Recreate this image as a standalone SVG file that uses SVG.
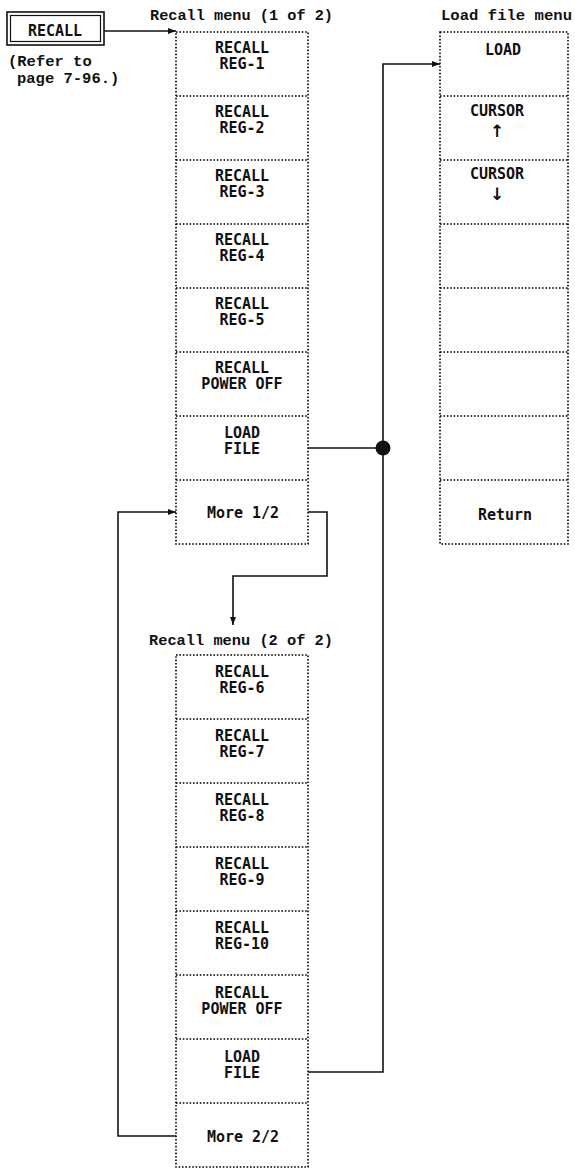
<svg xmlns="http://www.w3.org/2000/svg" width="575" height="1168" viewBox="0 0 575 1168">
<style>
.bg{fill:#fff}
.box{fill:none;stroke:#000;stroke-width:1.6;stroke-dasharray:1.6 1.8}
.ttl{font-family:"Liberation Mono",monospace;font-weight:bold;font-size:15.5px;fill:#111}
.itm{font-family:"DejaVu Sans Mono","Liberation Mono",monospace;font-weight:bold;font-size:15px;fill:#111;text-anchor:middle}
.arr{font-family:"DejaVu Sans",sans-serif;font-weight:bold;font-size:17px;fill:#111;text-anchor:middle}
.con{fill:none;stroke:#111;stroke-width:1.6}
</style>
<defs>
<marker id="ah" markerUnits="userSpaceOnUse" markerWidth="10" markerHeight="8" refX="8" refY="4" orient="auto">
<path d="M0,1 L8,4 L0,7 Z" fill="#111"/>
</marker>
</defs>
<rect class="bg" x="0" y="0" width="575" height="1168"/>

<g id="recall-key">
<rect x="7" y="12" width="97" height="33" fill="none" stroke="#111" stroke-width="1.6"/>
<rect x="10.5" y="15.5" width="90" height="26" fill="none" stroke="#111" stroke-width="1.2"/>
<text class="itm" x="55" y="36" font-size="14">RECALL</text>
<text class="ttl" x="8" y="66" font-size="15">(Refer to</text>
<text class="ttl" x="17" y="83" font-size="15">page 7-96.)</text>
</g>

<g id="menu1">
<text class="ttl" x="150" y="20" textLength="183" lengthAdjust="spacingAndGlyphs">Recall menu (1 of 2)</text>
<rect class="box" x="176" y="32" width="132" height="512"/>
<path class="box" d="M176,96 H308 M176,160 H308 M176,224 H308 M176,288 H308 M176,352 H308 M176,416 H308 M176,480 H308"/>
<g id="m1-reg1"><text class="itm" x="242" y="53">RECALL</text><text class="itm" x="242" y="69">REG-1</text></g>
<g id="m1-reg2"><text class="itm" x="242" y="117">RECALL</text><text class="itm" x="242" y="133">REG-2</text></g>
<g id="m1-reg3"><text class="itm" x="242" y="181">RECALL</text><text class="itm" x="242" y="197">REG-3</text></g>
<g id="m1-reg4"><text class="itm" x="242" y="245">RECALL</text><text class="itm" x="242" y="261">REG-4</text></g>
<g id="m1-reg5"><text class="itm" x="242" y="309">RECALL</text><text class="itm" x="242" y="325">REG-5</text></g>
<g id="m1-poweroff"><text class="itm" x="242" y="373">RECALL</text><text class="itm" x="242" y="389">POWER OFF</text></g>
<g id="m1-loadfile"><text class="itm" x="242" y="438">LOAD</text><text class="itm" x="242" y="454">FILE</text></g>
<g id="m1-more"><text class="itm" x="243" y="518">More 1/2</text></g>
</g>

<g id="loadmenu">
<text class="ttl" x="441" y="20" textLength="131" lengthAdjust="spacingAndGlyphs">Load file menu</text>
<rect class="box" x="440" y="32" width="128" height="512"/>
<path class="box" d="M440,96 H568 M440,160 H568 M440,224 H568 M440,288 H568 M440,352 H568 M440,416 H568 M440,480 H568"/>
<g id="lm-load"><text class="itm" x="503" y="55">LOAD</text></g>
<g id="lm-up"><text class="itm" x="497" y="116">CURSOR</text><text class="arr" x="497" y="137">↑</text></g>
<g id="lm-down"><text class="itm" x="497" y="179">CURSOR</text><text class="arr" x="497" y="200">↓</text></g>
<g id="lm-return"><text class="itm" x="505" y="520">Return</text></g>
</g>

<g id="menu2">
<text class="ttl" x="149" y="645" textLength="184" lengthAdjust="spacingAndGlyphs">Recall menu (2 of 2)</text>
<rect class="box" x="176" y="655" width="132" height="512"/>
<path class="box" d="M176,719 H308 M176,783 H308 M176,847 H308 M176,911 H308 M176,975 H308 M176,1039 H308 M176,1103 H308"/>
<g id="m2-reg6"><text class="itm" x="242" y="677">RECALL</text><text class="itm" x="242" y="693">REG-6</text></g>
<g id="m2-reg7"><text class="itm" x="242" y="741">RECALL</text><text class="itm" x="242" y="757">REG-7</text></g>
<g id="m2-reg8"><text class="itm" x="242" y="805">RECALL</text><text class="itm" x="242" y="821">REG-8</text></g>
<g id="m2-reg9"><text class="itm" x="242" y="869">RECALL</text><text class="itm" x="242" y="885">REG-9</text></g>
<g id="m2-reg10"><text class="itm" x="242" y="933">RECALL</text><text class="itm" x="242" y="949">REG-10</text></g>
<g id="m2-poweroff"><text class="itm" x="242" y="998">RECALL</text><text class="itm" x="242" y="1014">POWER OFF</text></g>
<g id="m2-loadfile"><text class="itm" x="242" y="1062">LOAD</text><text class="itm" x="242" y="1078">FILE</text></g>
<g id="m2-more"><text class="itm" x="243" y="1142">More 2/2</text></g>
</g>

<g id="connectors">
<path class="con" d="M104,31 H176" marker-end="url(#ah)"/>
<path class="con" d="M308,448 H383"/>
<path class="con" d="M308,1072 H383 V64 H440" marker-end="url(#ah)"/>
<circle cx="383" cy="448" r="7.5" fill="#111"/>
<path class="con" d="M308,512 H327 V576 H233 V625" marker-end="url(#ah)"/>
<path class="con" d="M176,1136 H118 V512 H176" marker-end="url(#ah)"/>
</g>
</svg>
